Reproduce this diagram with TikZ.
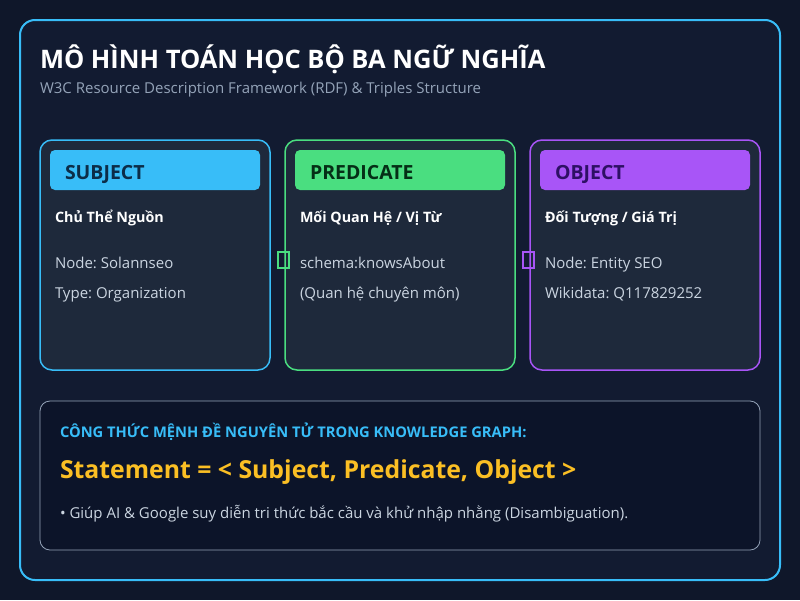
\documentclass[tikz,border=0pt]{standalone}
\usepackage{fontspec}
\setmainfont{Open Sans}
\frenchspacing
\definecolor{bgout}{HTML}{0F172A}
\definecolor{bgin}{HTML}{121B31}
\definecolor{cardfill}{HTML}{1E293B}
\definecolor{sky}{HTML}{38BDF8}
\definecolor{grn}{HTML}{4ADE80}
\definecolor{pur}{HTML}{A855F7}
\definecolor{subtle}{HTML}{94A3B8}
\definecolor{bodytxt}{HTML}{CBD5E1}
\definecolor{formbox}{HTML}{0C1429}
\definecolor{gold}{HTML}{FBBF24}
\definecolor{skydark}{HTML}{0C2D48}
\definecolor{grndark}{HTML}{052E16}
\definecolor{purdark}{HTML}{2E1065}
\tikzset{
  txt/.style={anchor=base west, inner sep=0pt, outer sep=0pt},
  cardbox/.style={line width=1.5pt, rounded corners=12pt, fill=cardfill},
  headbox/.style={rounded corners=5pt},
  headtxt/.style={txt, font=\fontsize{19.5}{22}\selectfont\bfseries},
  cardtitle/.style={txt, text=white, font=\fontsize{14.3}{16}\selectfont\bfseries},
  cardline/.style={txt, text=bodytxt, font=\fontsize{15}{17}\selectfont},
  marker/.style={line width=1.2pt}
}
\begin{document}
\begin{tikzpicture}[x=1pt,y=-1pt]
\useasboundingbox (0,0) rectangle (800,600);
\fill[bgout] (0,0) rectangle (800,600);
\draw[sky, line width=2pt, fill=bgin, rounded corners=15pt] (20,20) rectangle (780,580);
\node[txt, text=white, font=\fontsize{25.5}{28}\selectfont\bfseries] (title) at (40,68) {MÔ HÌNH TOÁN HỌC BỘ BA NGỮ NGHĨA};
\node[txt, text=subtle, font=\fontsize{15}{17}\selectfont] (subtitle) at (40,93) {W3C Resource Description Framework (RDF) \& Triples Structure};
% Subject card
\draw[cardbox, draw=sky] (40,140) rectangle (270,370);
\fill[headbox, sky] (50,150) rectangle (260,190);
\node[headtxt, text=skydark] (subj) at (65,179) {SUBJECT};
\node[cardtitle] (subjt) at (55,222) {Chủ Thể Nguồn};
\node[cardline] (subj1) at (55,268) {Node: Solannseo};
\node[cardline] (subj2) at (55,298) {Type: Organization};
% Predicate card
\draw[cardbox, draw=grn] (285,140) rectangle (515,370);
\fill[headbox, grn] (295,150) rectangle (505,190);
\node[headtxt, text=grndark] (pred) at (310,179) {PREDICATE};
\node[cardtitle] (predt) at (300,222) {Mối Quan Hệ / Vị Từ};
\node[cardline] (pred1) at (300,268) {schema:knowsAbout};
\node[cardline] (pred2) at (300,298) {(Quan hệ chuyên môn)};
% Object card
\draw[cardbox, draw=pur] (530,140) rectangle (760,370);
\fill[headbox, pur] (540,150) rectangle (750,190);
\node[headtxt, text=purdark] (obj) at (555,179) {OBJECT};
\node[cardtitle] (objt) at (545,222) {Đối Tượng / Giá Trị};
\node[cardline] (obj1) at (545,268) {Node: Entity SEO};
\node[cardline] (obj2) at (545,298) {Wikidata: Q117829252};
% markers
\draw[marker, grn] (278,252) rectangle (289,268);
\draw[marker, pur] (523,252) rectangle (534,268);
% Formula box
\draw[subtle, line width=0.8pt, fill=formbox, rounded corners=10pt] (40,401) rectangle (760,550);
\node[txt, text=sky, font=\fontsize{14.7}{16}\selectfont\bfseries] (fhead) at (60,437) {CÔNG THỨC MỆNH ĐỀ NGUYÊN TỬ TRONG KNOWLEDGE GRAPH:};
\node[txt, text=gold, font=\fontsize{24.8}{28}\selectfont\bfseries] (formula) at (60,478) {Statement = < Subject, Predicate, Object >};
\node[txt, text=bodytxt, font=\fontsize{15}{17}\selectfont] (note) at (60,518) {• Giúp AI \& Google suy diễn tri thức bắc cầu và khử nhập nhằng (Disambiguation).};
\end{tikzpicture}
\end{document}
